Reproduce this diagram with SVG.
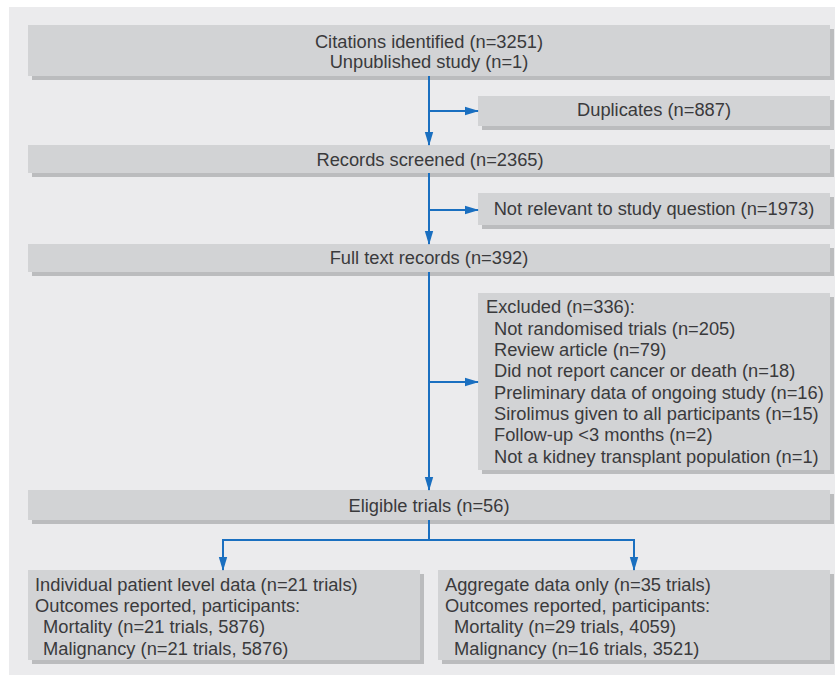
<svg xmlns="http://www.w3.org/2000/svg" width="835" height="675" viewBox="0 0 835 675">
<defs>
<style>
.bg{fill:#ebebed}
.box{fill:#d2d3d5}
.sh{fill:#bbbcbe}
.t{font-family:"Liberation Sans",Arial,sans-serif;font-size:18.3px;fill:#3a3a3c}
.c{text-anchor:middle}
.ln{stroke:#1a6fc0;stroke-width:2;fill:none}
</style>
<marker id="ah" markerUnits="userSpaceOnUse" markerWidth="14" markerHeight="10" refX="13" refY="5" orient="auto">
<path d="M0,0.8 L14,5 L0,9.2 z" fill="#1a6fc0"/>
</marker>
</defs>
<rect class="bg" x="9" y="7" width="826" height="668"/>

<g id="citations">
<rect class="sh" x="32" y="29" width="802" height="51"/>
<rect class="box" x="28" y="25" width="802" height="51"/>
<text class="t c" x="429" y="48">Citations identified (n=3251)</text>
<text class="t c" x="429" y="68">Unpublished study (n=1)</text>
</g>
<g id="duplicates">
<rect class="sh" x="482" y="100" width="352" height="30"/>
<rect class="box" x="478" y="96" width="352" height="30"/>
<text class="t c" x="654" y="116">Duplicates (n=887)</text>
</g>
<g id="screened">
<rect class="sh" x="32" y="149" width="802" height="28"/>
<rect class="box" x="28" y="145" width="802" height="28"/>
<text class="t c" x="430" y="166">Records screened (n=2365)</text>
</g>
<g id="notrelevant">
<rect class="sh" x="482" y="197" width="352" height="32"/>
<rect class="box" x="478" y="193" width="352" height="32"/>
<text class="t c" x="654" y="215">Not relevant to study question (n=1973)</text>
</g>
<g id="fulltext">
<rect class="sh" x="32" y="248" width="802" height="28"/>
<rect class="box" x="28" y="244" width="802" height="28"/>
<text class="t c" x="429" y="264">Full text records (n=392)</text>
</g>
<g id="excluded">
<rect class="sh" x="482" y="297" width="352" height="177"/>
<rect class="box" x="478" y="293" width="352" height="177"/>
<text class="t" x="486" y="313">Excluded (n=336):</text>
<text class="t" x="494" y="335">Not randomised trials (n=205)</text>
<text class="t" x="494" y="356">Review article (n=79)</text>
<text class="t" x="494" y="377">Did not report cancer or death (n=18)</text>
<text class="t" x="494" y="399">Preliminary data of ongoing study (n=16)</text>
<text class="t" x="494" y="420">Sirolimus given to all participants (n=15)</text>
<text class="t" x="494" y="441">Follow-up &lt;3 months (n=2)</text>
<text class="t" x="494" y="463">Not a kidney transplant population (n=1)</text>
</g>
<g id="eligible">
<rect class="sh" x="32" y="494" width="802" height="30"/>
<rect class="box" x="28" y="490" width="802" height="30"/>
<text class="t c" x="429" y="512">Eligible trials (n=56)</text>
</g>
<g id="ipd">
<rect class="sh" x="32" y="574" width="392" height="90"/>
<rect class="box" x="28" y="570" width="392" height="90"/>
<text class="t" x="35" y="591">Individual patient level data (n=21 trials)</text>
<text class="t" x="35" y="612">Outcomes reported, participants:</text>
<text class="t" x="43" y="633">Mortality (n=21 trials, 5876)</text>
<text class="t" x="43" y="655">Malignancy (n=21 trials, 5876)</text>
</g>
<g id="aggregate">
<rect class="sh" x="442" y="574" width="392" height="90"/>
<rect class="box" x="438" y="570" width="392" height="90"/>
<text class="t" x="445" y="591">Aggregate data only (n=35 trials)</text>
<text class="t" x="445" y="612">Outcomes reported, participants:</text>
<text class="t" x="454" y="633">Mortality (n=29 trials, 4059)</text>
<text class="t" x="454" y="655">Malignancy (n=16 trials, 3521)</text>
</g>

<g id="connectors">
<path class="ln" d="M429,76 V145" marker-end="url(#ah)"/>
<path class="ln" d="M429,111 H478" marker-end="url(#ah)"/>
<path class="ln" d="M429,173 V244" marker-end="url(#ah)"/>
<path class="ln" d="M429,210 H478" marker-end="url(#ah)"/>
<path class="ln" d="M429,272 V490" marker-end="url(#ah)"/>
<path class="ln" d="M429,382 H478" marker-end="url(#ah)"/>
<path class="ln" d="M429,520 V540"/>
<path class="ln" d="M223,540 H634"/>
<path class="ln" d="M223,539 V570" marker-end="url(#ah)"/>
<path class="ln" d="M634,539 V570" marker-end="url(#ah)"/>
</g>
</svg>
